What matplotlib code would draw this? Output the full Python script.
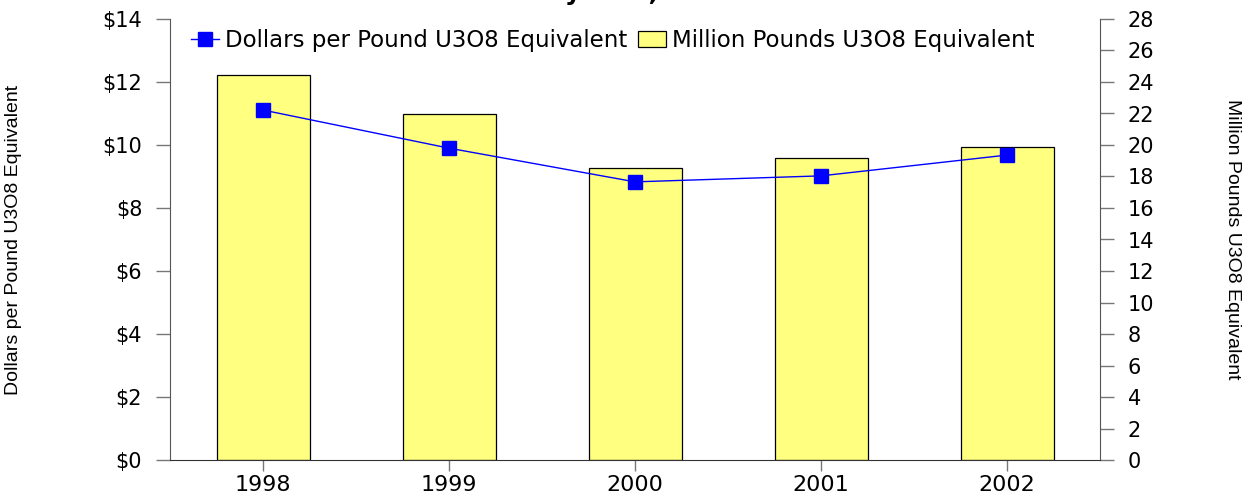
import matplotlib
matplotlib.use("Agg")
import matplotlib.pyplot as plt
from matplotlib import font_manager as fm

years = [1998, 1999, 2000, 2001, 2002]
year_labels = ["1998", "1999", "2000", "2001", "2002"]
price = [11.11, 9.90, 8.83, 9.02, 9.68]          # Dollars per pound U3O8e
quantity = [24.45, 21.95, 18.55, 19.2, 19.9]     # Million pounds U3O8e
left_ticks = [0, 2, 4, 6, 8, 10, 12, 14]
left_tick_labels = ["$0", "$2", "$4", "$6", "$8", "$10", "$12", "$14"]
right_ticks = list(range(0, 29, 2))

names = {f.name for f in fm.fontManager.ttflist}
base = "Liberation Sans" if "Liberation Sans" in names else "DejaVu Sans"
plt.rcParams['font.family'] = ["DejaVu Sans"]

fig = plt.figure(figsize=(12.49, 4.98), dpi=100)
ax = fig.add_axes([170/1249, 1 - 460/498, 930/1249, 441/498])
ax2 = ax.twinx()

ax.set_zorder(2)
ax.patch.set_visible(False)

ax2.bar(years, quantity, width=0.5, color="#ffff80", edgecolor="black",
        linewidth=0.9, label="Million Pounds U3O8 Equivalent", zorder=1)
ax.plot(years, price, color="blue", linewidth=1.0, marker="s", markersize=10,
        markeredgecolor="blue", label="Dollars per Pound U3O8 Equivalent")

ax.set_xlim(1997.5, 2002.5)
ax.set_ylim(0, 14)
ax2.set_ylim(0, 28)

ax.set_xticks(years)
ax.set_xticklabels(year_labels, fontsize=16)
ax.set_yticks(left_ticks)
ax.set_yticklabels(left_tick_labels, fontsize=15)
ax2.set_yticks(right_ticks)
ax2.set_yticklabels([str(t) for t in right_ticks], fontsize=15)

for a in (ax, ax2):
    a.spines['top'].set_visible(False)
    a.tick_params(axis='y', direction='out', length=10, width=1, color='#777777', pad=10)
ax.tick_params(axis='x', direction='out', length=8, width=1, color='#777777', pad=3)
ax.spines['left'].set_color('#555555')
ax.spines['bottom'].set_color('#333333')
ax2.spines['right'].set_color('#555555')
ax2.spines['left'].set_visible(False)
ax2.spines['bottom'].set_visible(False)
ax.spines['right'].set_visible(False)

ax.set_ylabel("Dollars per Pound U3O8 Equivalent", fontsize=14, family=[base, 'DejaVu Sans'])
ax2.set_ylabel("Million Pounds U3O8 Equivalent", fontsize=14, family=[base, 'DejaVu Sans'],
               rotation=270, va='center')
ax.yaxis.set_label_coords(-148/930, 0.5)
ax2.yaxis.set_label_coords(1 + 132/930, 0.5)

h1, l1 = ax.get_legend_handles_labels()
h2, l2 = ax2.get_legend_handles_labels()
ax.legend(h1 + h2, l1 + l2, loc='upper left', bbox_to_anchor=(0.012, 1.0), ncol=2,
          frameon=False, fontsize=16.5, handlelength=1.2, handletextpad=0.25, columnspacing=0.5,
          borderaxespad=0.05)

fig.text(120/1249, 1.0, "Uranium Purchased and Price by Year, 1998-2002", fontsize=18,
         fontweight='bold', va='baseline', ha='left')

fig.savefig("out.png", dpi=100)
